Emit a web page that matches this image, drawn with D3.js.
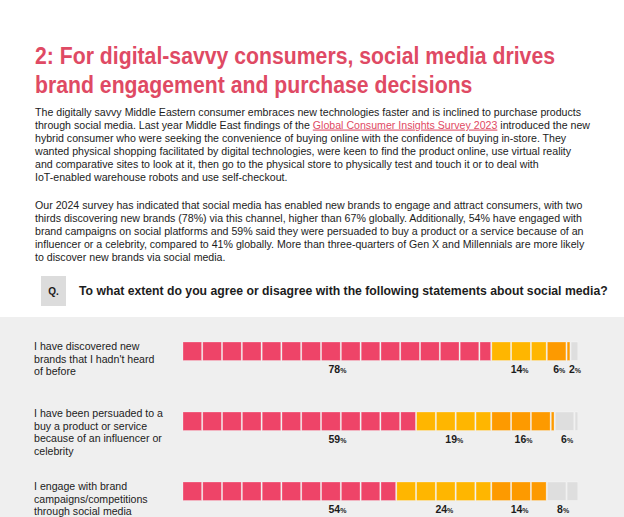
<!DOCTYPE html>
<html><head><meta charset="utf-8">
<script src="https://cdn.jsdelivr.net/npm/d3@7"></script>
<style>html,body{margin:0;padding:0;background:#fff;overflow:hidden}svg{display:block}</style>
</head><body>
<script>
// ---------- data ----------
const titleLines = ["2: For digital-savvy consumers, social media drives",
                    "brand engagement and purchase decisions"];
const linkText = "Global Consumer Insights Survey 2023";
const para1 = [
  "The digitally savvy Middle Eastern consumer embraces new technologies faster and is inclined to purchase products",
  "through social media. Last year Middle East findings of the {link} introduced the new",
  "hybrid consumer who were seeking the convenience of buying online with the confidence of buying in-store. They",
  "wanted physical shopping facilitated by digital technologies, were keen to find the product online, use virtual reality",
  "and comparative sites to look at it, then go to the physical store to physically test and touch it or to deal with",
  "IoT-enabled warehouse robots and use self-checkout."
];
const para2 = [
  "Our 2024 survey has indicated that social media has enabled new brands to engage and attract consumers, with two",
  "thirds discovering new brands (78%) via this channel, higher than 67% globally. Additionally, 54% have engaged with",
  "brand campaigns on social platforms and 59% said they were persuaded to buy a product or a service because of an",
  "influencer or a celebrity, compared to 41% globally. More than three-quarters of Gen X and Millennials are more likely",
  "to discover new brands via social media."
];
const questionMark = "Q.";
const question = "To what extent do you agree or disagree with the following statements about social media?";
const statements = [
  ["I have discovered new", "brands that I hadn't heard", "of before"],
  ["I have been persuaded to a", "buy a product or service", "because of an influencer or", "celebrity"],
  ["I engage with brand", "campaigns/competitions", "through social media"]
];
const agree    = [78, 59, 54];
const neutral  = [14, 19, 24];
const disagree = [6, 16, 14];
const dontKnow = [2, 6, 8];
const seriesKeys = ["agree", "neutral", "disagree", "dontKnow"];

// ---------- setup ----------
const W = 624, H = 517;
const FONT = "'Liberation Sans', Arial, Helvetica, sans-serif";
const colors = d3.scaleOrdinal().domain(seriesKeys)
  .range(["#ee4468", "#ffb600", "#fd9a00", "#dedede"]);
const titleColor = "#df4a64";
const textColor = "#1c1c1c";

const svg = d3.select("body").append("svg")
  .attr("width", W).attr("height", H)
  .style("font-family", FONT);

svg.append("rect").attr("width", W).attr("height", H).attr("fill", "#fff");
svg.append("rect").attr("x", 0).attr("y", 317).attr("width", W).attr("height", H - 317).attr("fill", "#efefef");

function fitSize(node, base, target) {
  const w = node.getComputedTextLength();
  return base * target / w;
}

// ---------- title ----------
const title = svg.append("g").attr("fill", titleColor).attr("font-weight", "bold")
  .attr("font-family", FONT);
const titleTexts = title.selectAll("text").data(titleLines).join("text")
  .attr("x", 35).attr("y", (d, i) => 64 + i * 29)
  .attr("font-size", 23.5).text(d => d);
const natW = titleTexts.nodes().map(n => n.getComputedTextLength());
const tScale = 520 / natW[0];
titleTexts.attr("textLength", (d, i) => natW[i] * tScale).attr("lengthAdjust", "spacingAndGlyphs");

// ---------- paragraphs ----------
function paragraph(lines, y0, targetW) {
  const g = svg.append("g").attr("fill", textColor);
  const probe = g.append("text").attr("font-size", 11).text(lines[0]);
  const fs = fitSize(probe.node(), 11, targetW);
  probe.remove();
  lines.forEach((ln, i) => {
    const t = g.append("text").attr("x", 35).attr("y", y0 + i * 13.05).attr("font-size", fs);
    const parts = ln.split("{link}");
    parts.forEach((p, j) => {
      t.append("tspan").text(p);
      if (j < parts.length - 1) {
        t.append("tspan").attr("fill", titleColor).attr("text-decoration", "underline").text(linkText);
      }
    });
  });
}
paragraph(para1, 115.5, 547);
paragraph(para2, 208.5, 548);

// ---------- question ----------
svg.append("rect").attr("x", 41).attr("y", 276).attr("width", 25).attr("height", 30).attr("fill", "#dcdcdc");
svg.append("text").attr("x", 53.5).attr("y", 295).attr("text-anchor", "middle")
  .attr("font-size", 10).attr("font-weight", "bold").attr("fill", textColor).text(questionMark);
const q = svg.append("text").attr("x", 79).attr("y", 295).attr("font-size", 11)
  .attr("font-weight", "bold").attr("fill", textColor).text(question);
q.attr("font-size", fitSize(q.node(), 11, 529));

// ---------- chart ----------
const rows = statements.map((s, i) => ({
  idx: i, label: s,
  agree: agree[i], neutral: neutral[i], disagree: disagree[i], dontKnow: dontKnow[i]
}));
const x = d3.scaleLinear().domain([0, 100]).range([183, 579]);
const y = d3.scaleBand().domain(rows.map(r => r.idx)).range([342, 552]).paddingInner(0);
const barH = 18.5;
const cellStep = 5;        // each cell represents 5%
const gap = 1.2;

const stacked = d3.stack().keys(seriesKeys)(rows);

// row labels
const lblSize = (() => {
  const p = svg.append("text").attr("font-size", 11).text(statements[0][1]);
  const s = fitSize(p.node(), 11, 120.5); p.remove(); return s;
})();
const rowLabels = svg.append("g").attr("fill", textColor).attr("font-size", lblSize);
rows.forEach(r => {
  const t = rowLabels.append("text").attr("x", 34);
  r.label.forEach((ln, j) => {
    t.append("tspan").attr("x", 34).attr("y", y(r.idx) + 6 + (r.label.length > 3 ? -1 : 2) + j * 12.5).text(ln);
  });
});

// cells
const cellsG = svg.append("g");
stacked.forEach(series => {
  const key = series.key;
  series.forEach((seg, i) => {
    const [a, b] = seg;
    const cells = [];
    for (let v = a; v < b - 1e-6; v += cellStep) cells.push([v, Math.min(v + cellStep, b)]);
    cellsG.selectAll(null).data(cells).join("rect")
      .attr("x", c => x(c[0]))
      .attr("y", y(rows[i].idx))
      .attr("width", c => Math.max(0.5, x(c[1]) - x(c[0]) - gap))
      .attr("height", barH)
      .attr("fill", colors(key))
      .attr("stroke", "rgba(255,255,255,0.45)")
      .attr("stroke-width", 0.6);
  });
});

// value labels
const agreeLabelX = x(d3.max(agree) / 2);
const valG = svg.append("g").attr("fill", textColor).attr("font-weight", "bold").attr("text-anchor", "middle");
stacked.forEach((series, si) => {
  series.forEach((seg, i) => {
    const [a, b] = seg;
    const cx = si === 0 ? agreeLabelX : x((a + b) / 2);
    const t = valG.append("text").attr("x", cx).attr("y", y(rows[i].idx) + 31).attr("font-size", 10.5);
    t.append("tspan").text(b - a);
    t.append("tspan").attr("font-size", 7).text("%");
  });
});
</script>
</body></html>
